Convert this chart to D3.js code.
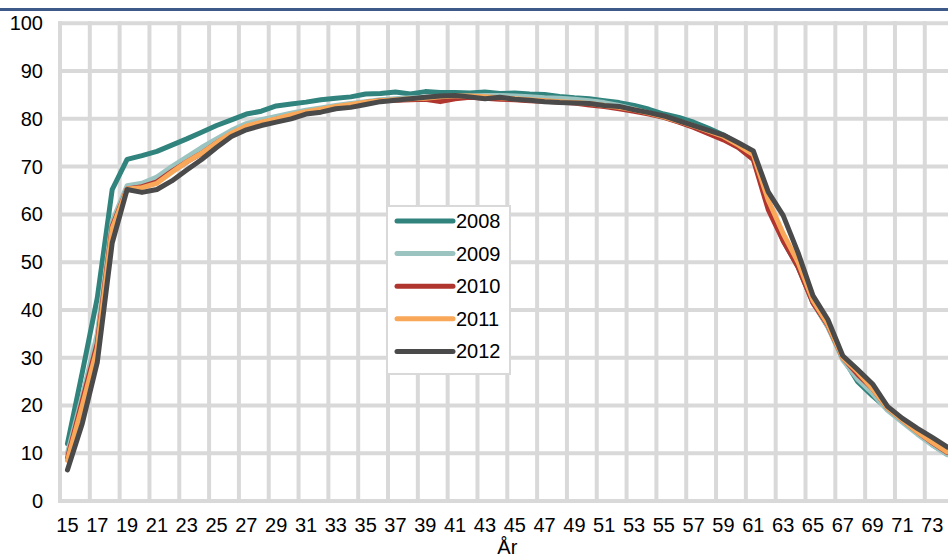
<!DOCTYPE html>
<html>
<head>
<meta charset="utf-8">
<script src="https://cdn.jsdelivr.net/npm/d3@7"></script>
<style>
  html, body { margin: 0; padding: 0; background: #fff; }
  svg { display: block; font-family: "Liberation Sans", Arial, sans-serif; }
</style>
</head>
<body>
<svg id="chart" width="948" height="558"></svg>
<script>
// ---------- DATA ----------
const ages = d3.range(15, 75); // 15..74
const seriesNames = ["2008", "2009", "2010", "2011", "2012"];
const seriesColors = ["#31837D", "#9BC3C0", "#B0352F", "#F9A85A", "#4A4A4A"];

const v2008 = [12, 27, 42.5, 65.2, 71.5, 72.3, 73.2, 74.5, 75.8, 77.2,
  78.6, 79.8, 81, 81.6, 82.7, 83.1, 83.5, 84, 84.3, 84.6,
  85.2, 85.3, 85.6, 85.2, 85.7, 85.5, 85.5, 85.4, 85.6, 85.3,
  85.4, 85.2, 85.1, 84.7, 84.4, 84.2, 83.8, 83.4, 82.8, 82,
  81, 80.3, 79.3, 78, 76.6, 74.8, 72, 62.5, 54.5, 49,
  41.5, 36.5, 30, 25, 22, 19.3, 16.8, 14.3, 11.8, 9.8];
const v2009 = [10, 22, 35, 58.5, 66, 66.5, 67.8, 70, 72, 74,
  75.8, 77.6, 79, 79.8, 80.5, 81.2, 81.8, 82.3, 82.8, 83.2,
  83.6, 84, 84.2, 84.4, 84.5, 84.6, 84.7, 84.8, 84.9, 84.9,
  84.8, 84.6, 84.4, 84.3, 84.1, 83.8, 83.4, 82.8, 82, 81.2,
  80.3, 79.4, 78.3, 77, 75.8, 74, 71.5, 62, 55.5, 49.5,
  41.5, 36.5, 29.5, 25.5, 22.5, 19, 16.5, 14, 11.7, 9.7];
const v2010 = [9, 21, 33, 57.5, 65.3, 65.8, 66.8, 69, 71, 72.8,
  75, 76.8, 78.2, 79.2, 79.9, 80.5, 81.2, 81.8, 82.4, 82.8,
  83.4, 83.8, 83.9, 84, 84.1, 83.6, 84.2, 84.5, 84.3, 84.1,
  84, 83.8, 83.7, 83.5, 83.3, 82.9, 82.6, 82.1, 81.6, 81,
  80.3, 79.3, 78.2, 76.9, 75.6, 74, 71.5, 61, 54.5, 49,
  41.5, 36.8, 30, 26.5, 23.5, 19.5, 17, 14.5, 12.2, 10.2];
const v2011 = [8.5, 20, 32, 57, 65.3, 65.6, 66.5, 68.8, 71, 72.8,
  75, 77, 78.5, 79.3, 80, 80.8, 81.5, 82, 82.6, 83,
  83.5, 83.8, 84, 84.2, 84.3, 84.6, 84.8, 84.8, 84.6, 84.4,
  84.2, 84, 83.8, 83.6, 83.4, 83.2, 82.8, 82.4, 81.9, 81.2,
  80.4, 79.5, 78.5, 77.4, 76.3, 74.5, 72.5, 63, 56, 50,
  42, 37, 30, 27, 23.5, 19.5, 17, 14.5, 12.3, 10.3];
const v2012 = [6.5, 16.3, 29, 54, 65.2, 64.6, 65.2, 67, 69.3, 71.5,
  74, 76.3, 77.7, 78.6, 79.3, 80, 81, 81.4, 82.1, 82.4,
  83, 83.6, 83.9, 84.2, 84.5, 84.8, 84.9, 84.6, 84.2, 84.5,
  84.1, 83.9, 83.6, 83.4, 83.3, 83.2, 82.8, 82.6, 81.9, 81.3,
  80.6, 79.6, 78.6, 77.6, 76.6, 75, 73.3, 64.7, 59.8, 52,
  43, 38, 30.4, 27.5, 24.5, 19.8, 17.3, 15.2, 13.3, 11.3];
const seriesValues = [v2008, v2009, v2010, v2011, v2012];

const yTicks = [0, 10, 20, 30, 40, 50, 60, 70, 80, 90, 100];
const xTickLabels = d3.range(15, 75, 2); // 15,17,...,73
const xTitle = "År";

// ---------- LAYOUT ----------
const svg = d3.select("#chart");
const plotLeft = 60, catW = 14.91;
const plotRight = plotLeft + ages.length * catW;
const plotTop = 23.3, plotBottom = 501;
const gridColor = "#D9D9D9";

const x = d3.scaleBand().domain(ages).range([plotLeft, plotRight]).padding(0);
const y = d3.scaleLinear().domain([0, 100]).range([plotBottom, plotTop]);
const cx = a => x(a) + x.bandwidth() / 2;

// top rule
svg.append("rect").attr("x", 0).attr("y", 8).attr("width", 948).attr("height", 3)
  .attr("fill", "#3E5A8A");

// horizontal grid
svg.append("g").selectAll("line").data(yTicks).join("line")
  .attr("x1", plotLeft - 2).attr("x2", plotRight)
  .attr("y1", d => y(d)).attr("y2", d => y(d))
  .attr("stroke", gridColor).attr("stroke-width", 4);

// vertical grid at category boundaries every 2 categories
const vLines = xTickLabels.map(a => x(a)).concat([plotRight]);
svg.append("g").selectAll("line").data(vLines).join("line")
  .attr("x1", d => d).attr("x2", d => d)
  .attr("y1", plotTop - 2).attr("y2", plotBottom + 2)
  .attr("stroke", gridColor).attr("stroke-width", 4);

// Y axis labels
const yAxis = svg.append("g").attr("transform", `translate(${plotLeft},0)`)
  .call(d3.axisLeft(y).tickValues(yTicks).tickSize(0).tickPadding(17));
yAxis.select(".domain").remove();
yAxis.selectAll("text").attr("font-size", 20).attr("fill", "#000")
  .attr("font-family", "Liberation Sans, Arial, sans-serif");

// X axis labels
const xAxis = svg.append("g").attr("transform", `translate(0,${plotBottom})`)
  .call(d3.axisBottom(x).tickValues(xTickLabels).tickSize(0).tickPadding(17));
xAxis.select(".domain").remove();
xAxis.selectAll("text").attr("font-size", 20).attr("fill", "#000")
  .attr("font-family", "Liberation Sans, Arial, sans-serif");

// x title
svg.append("text").attr("x", (plotLeft + plotRight) / 2).attr("y", 554)
  .attr("text-anchor", "middle").attr("font-size", 20).attr("fill", "#000")
  .text(xTitle);

// lines
const line = d3.line().x((d, i) => cx(ages[i])).y(d => y(d));
svg.append("g").selectAll("path").data(seriesValues).join("path")
  .attr("d", d => line(d))
  .attr("fill", "none")
  .attr("stroke", (d, i) => seriesColors[i])
  .attr("stroke-width", 5)
  .attr("stroke-linejoin", "round")
  .attr("stroke-linecap", "round");

// legend
const lg = svg.append("g");
lg.append("rect").attr("x", 387).attr("y", 206).attr("width", 123).attr("height", 168)
  .attr("fill", "#fff").attr("stroke", gridColor).attr("stroke-width", 2);
const items = lg.selectAll("g.item").data(seriesNames).join("g")
  .attr("class", "item")
  .attr("transform", (d, i) => `translate(0,${221 + i * 32.6})`);
items.append("line").attr("x1", 397).attr("x2", 453).attr("y1", 0).attr("y2", 0)
  .attr("stroke", (d, i) => seriesColors[i]).attr("stroke-width", 5)
  .attr("stroke-linecap", "round");
items.append("text").attr("x", 456).attr("y", 0).attr("dy", "0.35em")
  .attr("font-size", 20).attr("fill", "#000").text(d => d);
</script>
</body>
</html>
